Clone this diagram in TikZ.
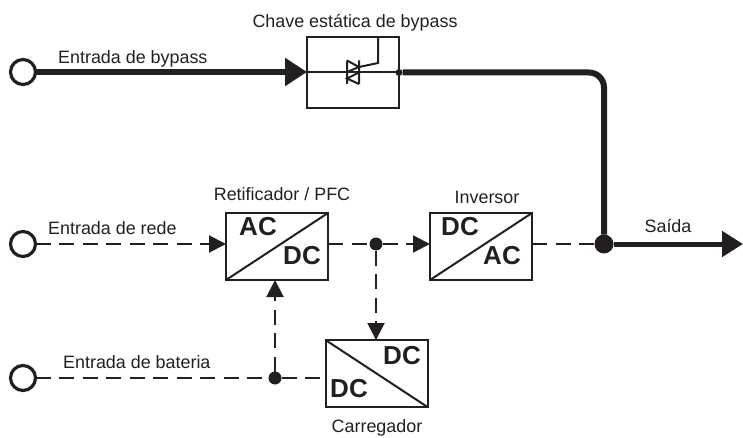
\documentclass[tikz,border=0pt]{standalone}
\usepackage{fontspec}
\setmainfont{Liberation Sans}
\usepackage{xcolor}
\usetikzlibrary{arrows.meta}
\definecolor{tinta}{HTML}{231F20}
\tikzset{
    terminal/.style={circle, draw=tinta, fill=white, line width=3.2pt, minimum size=25pt, inner sep=0pt, outer sep=0pt},
    juncao/.style={circle, fill=tinta, minimum size=13pt, inner sep=0pt, outer sep=0pt},
    juncaogrande/.style={circle, fill=tinta, minimum size=19pt, inner sep=0pt, outer sep=0pt},
    caixa/.style={draw=tinta, line width=2pt, minimum width=102pt, minimum height=67pt, inner sep=0pt, outer sep=0pt},
    rotulo/.style={text=tinta, inner sep=0pt, font=\fontsize{17.9}{20}\selectfont},
    conv/.style={text=tinta, inner sep=0pt, font=\fontsize{26}{28}\selectfont\bfseries},
    tracejado/.style={draw=tinta, line width=2pt, dash pattern=on 15pt off 8.5pt, -{Triangle[length=17pt,width=17pt]}},
    tracosimples/.style={draw=tinta, line width=2pt, dash pattern=on 15pt off 8.5pt},
    grosso/.style={draw=tinta, line width=6pt},
    fino/.style={draw=tinta, line width=2pt},
}
\begin{document}
\begin{tikzpicture}[x=1pt,y=-1pt]
\useasboundingbox (0,0) rectangle (743,438);
% entradas
\node[terminal] (bypass) at (23,72) {};
\node[terminal] (rede) at (23,244) {};
\node[terminal] (bateria) at (23,378) {};
% blocos
\node[caixa, minimum width=92pt, minimum height=71pt] (chave) at (353,72.5) {};
\node[caixa] (retificador) at (277,246.5) {};
\node[caixa] (inversor) at (481,246.5) {};
\node[caixa] (carregador) at (376.5,373.5) {};
\draw[fino] (retificador.south west) -- (retificador.north east);
\draw[fino] (inversor.south west) -- (inversor.north east);
\draw[fino] (carregador.north west) -- (carregador.south east);
\node[conv] (ac1) at (258,227) {AC};
\node[conv] (dc1) at (302,256) {DC};
\node[conv] (dc2) at (460,227) {DC};
\node[conv] (ac2) at (502,256) {AC};
\node[conv] (dc3) at (402,356) {DC};
\node[conv] (dc4) at (349,389) {DC};
% juncoes
\node[juncao] (meio) at (376,244) {};
\node[juncao] (bat) at (275,378) {};
\node[juncaogrande] (saida) at (604,244) {};
\node[circle, fill=tinta, minimum size=7pt, inner sep=0pt] (ponto) at (chave.east) {};
\coordinate (fim) at (743,244);
% caminho de bypass
\draw[grosso, -{Triangle[length=22pt,width=27pt]}] (bypass) -- (bypass -| chave.west);
\draw[grosso, rounded corners=15pt] (ponto) -- (saida |- ponto) -- (saida);
\draw[grosso, line width=5pt, -{Triangle[length=21pt,width=25pt]}] (saida) -- (fim);
\draw[fino] (bypass -| chave.west) -- (bypass -| chave.east);
% tiristor
\draw[fino] (347,60.5) -- (347,84) (347,60.5) -- (359,67) -- (347,72) (359,60.5) -- (359,84) (359,72.5) -- (347,78.5) -- (359,84);
\draw[fino] (359,67) -- (378,63) -- (378,37);
% caminhos tracejados
\draw[tracejado] (rede) -- (rede -| retificador.west);
\draw[tracosimples] (retificador.east |- meio) -- (meio);
\draw[tracejado] (meio) -- (meio -| inversor.west);
\draw[tracosimples] (inversor.east |- saida) -- (saida);
\draw[tracejado] (meio) -- (meio |- carregador.north);
\draw[tracosimples] (bateria) -- (bat);
\draw[tracosimples] (bat) -- (bat -| carregador.west);
\draw[tracejado] (bat) -- (bat |- retificador.south);
% textos
\node[rotulo] (t1) at (355,22.5) {Chave estática de bypass};
\node[rotulo, anchor=west] (t2) at (58,58.5) {Entrada de bypass};
\node[rotulo] (t3) at (282,194) {Retificador / PFC};
\node[rotulo] (t4) at (487,197) {Inversor};
\node[rotulo, anchor=west] (t5) at (48,228) {Entrada de rede};
\node[rotulo] (t6) at (668,226) {Saída};
\node[rotulo, anchor=west] (t7) at (63,362) {Entrada de bateria};
\node[rotulo] (t8) at (377,428) {Carregador};
\end{tikzpicture}
\end{document}
